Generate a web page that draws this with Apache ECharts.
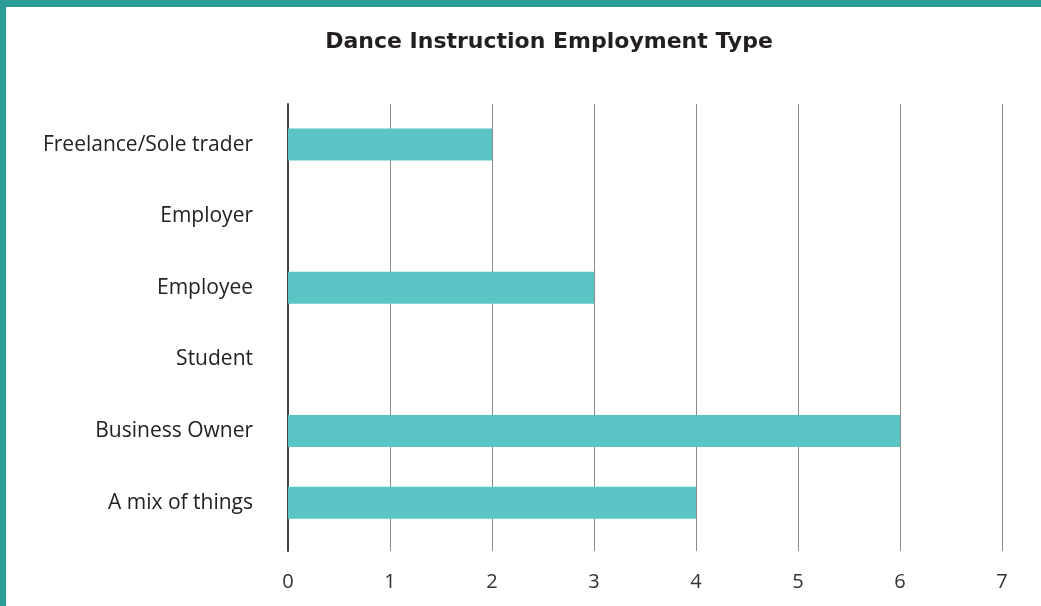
<!DOCTYPE html>
<html><head><meta charset="utf-8">
<script src="https://cdn.jsdelivr.net/npm/echarts@6/dist/echarts.min.js"></script>
<style>html,body{margin:0;padding:0;background:#fff}#c{width:1041px;height:606px}</style>
</head><body><div id="c"></div>
<script>
const title = 'Dance Instruction Employment Type';
const categories = ['Freelance/Sole trader','Employer','Employee','Student','Business Owner','A mix of things'];
const counts = [2, 0, 3, 0, 6, 4];
const xTicks = [0,1,2,3,4,5,6,7];

const chart = echarts.init(document.getElementById('c'));
const labelFont = '"Open Sans", "Noto Sans", sans-serif';
chart.setOption({
  animation: false,
  backgroundColor: '#ffffff',
  title: {
    text: title, left: 544, top: 26, textAlign: 'center',
    textStyle: {fontFamily: '"DejaVu Sans", sans-serif', fontWeight: 'bold', fontSize: 22, color: '#231f20'}
  },
  graphic: [
    {type: 'rect', shape: {x: 0, y: 0, width: 1041, height: 7}, style: {fill: '#2b9c96'}},
    {type: 'rect', shape: {x: 0, y: 0, width: 6, height: 606}, style: {fill: '#2b9c96'}}
  ],
  grid: [
    {left: 288, right: 39, top: 104, bottom: 55},
    {left: 288, right: 39, top: 108.7, bottom: 67.5}
  ],
  xAxis: [
    {gridIndex: 0, type: 'value', min: xTicks[0], max: xTicks[xTicks.length-1], interval: 1,
     axisLine: {show: false}, axisTick: {show: false},
     axisLabel: {margin: 21, fontSize: 20, color: '#333', fontFamily: labelFont},
     splitLine: {lineStyle: {color: '#8c8c8c', width: 1}}},
    {gridIndex: 1, type: 'value', min: xTicks[0], max: xTicks[xTicks.length-1], interval: 1, show: false}
  ],
  yAxis: [
    {gridIndex: 0, type: 'value', show: true, axisLabel: {show: false}, splitLine: {show: false},
     axisTick: {show: false}, axisLine: {show: true, onZero: false, lineStyle: {color: '#444', width: 2}}},
    {gridIndex: 1, type: 'category', data: categories, inverse: true,
     axisLine: {show: false}, axisTick: {show: false},
     axisLabel: {margin: 35, fontSize: 21, color: '#222', fontFamily: labelFont}}
  ],
  series: [{
    type: 'bar', xAxisIndex: 1, yAxisIndex: 1, data: counts,
    barWidth: 32, itemStyle: {color: '#5bc5c5'}
  }]
});
</script></body></html>
